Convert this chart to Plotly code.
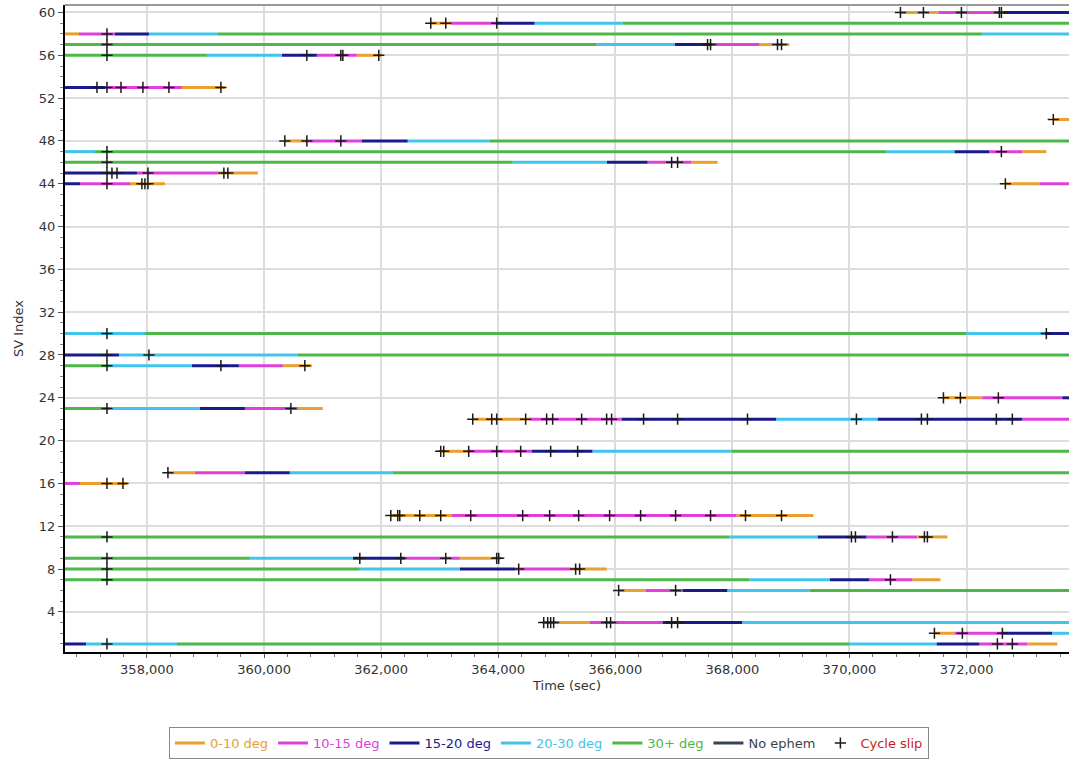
import plotly.graph_objects as go

# ---------------- data ----------------
CLASS_NAMES = ["0-10 deg", "10-15 deg", "15-20 deg", "20-30 deg", "30+ deg"]
CLASS_COLORS = ["#E8A030", "#E040D8", "#1A1A8A", "#40C4EC", "#4CB848"]
NO_EPHEM_COLOR = "#3A4450"
O, M, N, C, G = 0, 1, 2, 3, 4

# per visible track: SV index, time breakpoints (sec), elevation class of each piece
track_sv = [60, 59, 58, 57, 56, 53, 50, 48, 47, 46, 45, 44, 44, 30, 28, 27,
            24, 23, 22, 19, 17, 16, 13, 11, 9, 8, 7, 6, 3, 2, 1]
track_breaks = [
    [370871, 371520, 372630, 374000],
    [362848, 363189, 363974, 364623, 366125, 374000],
    [356600, 356839, 357454, 358034, 359212, 372270, 374000],
    [356600, 365681, 367013, 367650, 368464, 368976],
    [356600, 359024, 360304, 360902, 361585, 362011],
    [356600, 357283, 358597, 359331],
    [373482, 374000],
    [360355, 360731, 361670, 362455, 363855, 374000],
    [356600, 357112, 370632, 371793, 372390, 372953, 373363],
    [356600, 364247, 365852, 366552, 367303, 367747],
    [356600, 357829, 359212, 359894],
    [356600, 356856, 357710, 358307],
    [372663, 373244, 374000],
    [356600, 357966, 371997, 373329, 374000],
    [356600, 357522, 360577, 374000],
    [356600, 357368, 358768, 359570, 360321, 360816],
    [371605, 372270, 373636, 374000],
    [356600, 357368, 358904, 359673, 360577, 361004],
    [363565, 364537, 366108, 368753, 370478, 372953, 374000],
    [363018, 363496, 364572, 365613, 367986, 374000],
    [358358, 358819, 359673, 360441, 362199, 374000],
    [356600, 356856, 357659],
    [362165, 363206, 368071, 369385],
    [356600, 367952, 369454, 370290, 371161, 371673],
    [356600, 359758, 361517, 362404, 363343, 364042],
    [356600, 361636, 363343, 364282, 365255, 365852],
    [356600, 368293, 369659, 370341, 371076, 371554],
    [366057, 366518, 367149, 367918, 369318, 374000],
    [364777, 365562, 366808, 368173, 374000],
    [371451, 371793, 372600, 373465, 374000],
    [356600, 356958, 358512, 370000, 371485, 372219, 373039, 373551],
]
track_classes = [
    [O, M, N],
    [O, M, N, C, G],
    [O, M, N, C, G, C],
    [G, C, N, M, O],
    [G, C, N, M, O],
    [N, M, O],
    [O],
    [O, M, N, C, G],
    [C, G, C, N, M, O],
    [G, C, N, M, O],
    [N, M, O],
    [N, M, O],
    [O, M],
    [C, G, C, N],
    [N, C, G],
    [G, C, N, M, O],
    [O, M, N],
    [G, C, N, M, O],
    [O, M, N, C, N, M],
    [O, M, N, C, G],
    [O, M, N, C, G],
    [M, O],
    [O, M, O],
    [G, C, N, M, O],
    [G, C, N, M, O],
    [G, C, N, M, O],
    [G, C, N, M, O],
    [O, M, N, C, G],
    [O, M, N, C],
    [O, M, N, C],
    [N, C, G, C, N, M, O],
]

# cycle slips: SV index and time (sec)
slip_sv = (
    [60] * 5 + [59] * 3 + [58] + [57] * 5 + [56] * 5 + [53] * 6 + [50] + [48] * 3
    + [47] * 2 + [46] * 3 + [45] * 6 + [44] * 5 + [30] * 2 + [28] * 2 + [27] * 3
    + [24] * 3 + [23] * 2 + [22] * 17 + [19] * 7 + [17] + [16] * 2 + [13] * 15
    + [11] * 6 + [9] * 6 + [8] * 4 + [7] * 2 + [6] * 2 + [3] * 8 + [2] * 3 + [1] * 3
)
slip_time = [
    370871, 371263, 371912, 372561, 372595,
    362848, 363104, 363974,
    357317,
    357317, 367576, 367627, 368771, 368839,
    357317, 360731, 361312, 361346, 361960,
    357146, 357317, 357556, 357931, 358375, 359263,
    373482,
    360355, 360731, 361312,
    357317, 372595,
    357317, 366962, 367064,
    357317, 357402, 357488, 358017, 359314, 359382,
    357317, 357914, 357965, 358017, 372663,
    357317, 373363,
    357317, 358034,
    357317, 359263, 360697,
    371605, 371895, 372543,
    357317, 360458,
    363565, 363889, 363974, 364469, 364827, 364930, 365425, 365852, 365937,
    366483, 367064, 368258, 370119, 371229, 371331, 372509, 372782,
    363018, 363069, 363496, 363974, 364384, 364896, 365357,
    358358,
    357317, 357590,
    362165, 362284, 362318, 362660, 363018, 363530, 364418, 364879, 365374,
    365903, 366432, 367030, 367627, 368224, 368839,
    357317, 370034, 370102, 370734, 371280, 371331,
    357317, 361636, 362336, 363104, 363974, 364008,
    357317, 364350, 365323, 365391,
    357317, 370700,
    366057, 367030,
    364777, 364845, 364896, 364947, 365852, 365920, 366962, 367064,
    371451, 371929, 372612,
    357317, 372527, 372782,
]

# ---------------- build figure ----------------
FONT = "DejaVu Sans"
fig = go.Figure()

for ci, (cname, ccol) in enumerate(zip(CLASS_NAMES, CLASS_COLORS)):
    xs, ys = [], []
    for sv, br, cl in zip(track_sv, track_breaks, track_classes):
        for k, c in enumerate(cl):
            if c == ci:
                xs += [br[k], br[k + 1], None]
                ys += [sv, sv, None]
    fig.add_trace(go.Scatter(
        x=xs, y=ys, mode="lines",
        line=dict(color=ccol, width=3),
        name=f"<span style='color:{ccol}'>{cname}</span>",
        hoverinfo="skip",
    ))

fig.add_trace(go.Scatter(
    x=[None], y=[None], mode="lines",
    line=dict(color=NO_EPHEM_COLOR, width=3),
    name=f"<span style='color:{NO_EPHEM_COLOR}'>No ephem</span>",
))

fig.add_trace(go.Scatter(
    x=slip_time, y=slip_sv, mode="markers",
    marker=dict(symbol="cross-thin", size=8, color="black",
                line=dict(color="#1a1a1a", width=1.5)),
    name="<span style='color:#C81E1E'>Cycle slip</span>",
))

fig.update_layout(
    width=1069, height=760,
    margin=dict(l=65, r=0, t=5, b=108, autoexpand=False),
    paper_bgcolor="white", plot_bgcolor="white",
    font=dict(family=FONT, size=13, color="#333333"),
    showlegend=True,
    legend=dict(
        orientation="h", x=0.482, xanchor="center", y=-0.116, yanchor="top",
        bordercolor="#888888", borderwidth=1, bgcolor="white",
        font=dict(family=FONT, size=13), itemwidth=30, tracegroupgap=0,
    ),
    xaxis=dict(
        range=[356600, 373750], dtick=2000, tick0=0, tickformat=",",
        automargin=False,
        showgrid=True, gridcolor="#dcdcdc", gridwidth=1.5, zeroline=False,
        showline=True, linecolor="black", linewidth=2,
        ticks="outside", ticklen=4, tickcolor="#555555",
        minor=dict(dtick=400, tick0=0, ticks="outside", ticklen=3, tickcolor="#777777", showgrid=False),
        title=dict(text="Time (sec)", font=dict(size=13), standoff=5),
        tickfont=dict(size=13),
    ),
    yaxis=dict(
        range=[0.25, 60.7], dtick=4, tick0=0,
        automargin=False,
        showgrid=True, gridcolor="#dcdcdc", gridwidth=1.5, zeroline=False,
        showline=True, linecolor="black", linewidth=2,
        ticks="outside", ticklen=5, tickcolor="#555555",
        minor=dict(dtick=1, tick0=0, ticks="outside", ticklen=3, tickcolor="#888888", showgrid=False),
        title=dict(text="SV Index", font=dict(size=13), standoff=12),
        tickfont=dict(size=13),
    ),
    shapes=[dict(type="line", xref="paper", yref="paper", x0=0, x1=1, y0=1, y1=1,
                 line=dict(color="#999999", width=2))],
)

fig.write_html(
    "out.html",
    config={"displayModeBar": False},
    post_script="document.body.style.margin='0';document.body.style.overflow='hidden';",
)
